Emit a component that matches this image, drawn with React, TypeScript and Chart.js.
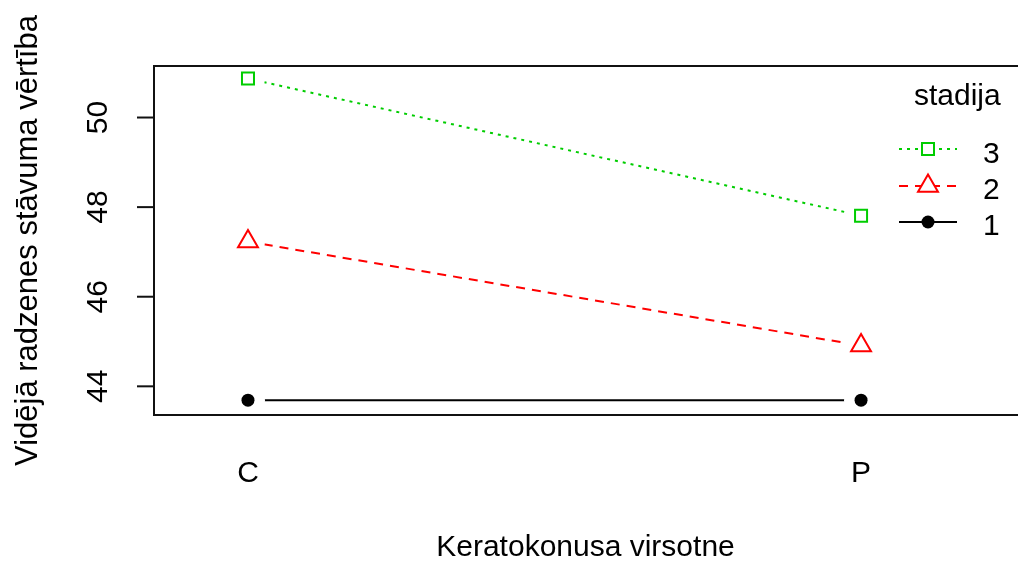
import React, { useEffect, useRef } from "react";
import { Chart, registerables } from "chart.js";

Chart.register(...registerables);

const categories = ["C", "P"];
const yTicks = [44, 46, 48, 50];
const stage3 = [50.87, 47.81];
const stage2 = [47.23, 44.91];
const stage1 = [43.69, 43.69];
const legendTitle = "stadija";
const legendLabels = ["3", "2", "1"];
const xTitle = "Keratokonusa virsotne";
const yTitle = "Vidējā radzenes stāvuma vērtība";

const FONT = '"Liberation Sans", Arial, sans-serif';
const FS = 30;

const GREEN = "#00CD00";
const RED = "#FF0000";
const BLACK = "#000000";

type SeriesDef = {
  values: number[];
  color: string;
  dash: number[];
  style: string;
  radius: number;
  fill: string;
};

const series: SeriesDef[] = [
  { values: stage3, color: GREEN, dash: [3, 5], style: "rect", radius: 8.5, fill: "#ffffff" },
  { values: stage2, color: RED, dash: [9, 7], style: "triangle", radius: 11.5, fill: "#ffffff" },
  { values: stage1, color: BLACK, dash: [], style: "circle", radius: 6.5, fill: BLACK },
];

function drawMarker(ctx: CanvasRenderingContext2D, s: SeriesDef, x: number, y: number) {
  ctx.save();
  ctx.setLineDash([]);
  ctx.strokeStyle = s.color;
  ctx.fillStyle = s.fill;
  ctx.lineWidth = 2;
  ctx.beginPath();
  if (s.style === "rect") {
    const h = s.radius * Math.SQRT1_2;
    ctx.rect(x - h, y - h, 2 * h, 2 * h);
    ctx.fill();
    ctx.stroke();
  } else if (s.style === "triangle") {
    const r = s.radius;
    ctx.moveTo(x, y - r);
    ctx.lineTo(x + (r * Math.sqrt(3)) / 2, y + r / 2);
    ctx.lineTo(x - (r * Math.sqrt(3)) / 2, y + r / 2);
    ctx.closePath();
    ctx.fill();
    ctx.stroke();
  } else {
    ctx.arc(x, y, s.radius, 0, Math.PI * 2);
    ctx.fill();
  }
  ctx.restore();
}

const framePlugin = {
  id: "rframe",
  afterDraw(chart: any) {
    const { ctx, chartArea } = chart;
    const ys = chart.scales.y;
    const xs = chart.scales.x;
    ctx.save();
    // box
    ctx.strokeStyle = "#111";
    ctx.lineWidth = 2;
    ctx.setLineDash([]);
    ctx.strokeRect(chartArea.left, chartArea.top, chartArea.right - chartArea.left + 4, chartArea.bottom - chartArea.top);
    // y ticks
    ctx.fillStyle = "#000";
    ctx.font = `${FS}px ${FONT}`;
    yTicks.forEach((t) => {
      const py = ys.getPixelForValue(t);
      ctx.beginPath();
      ctx.moveTo(chartArea.left - 17, py);
      ctx.lineTo(chartArea.left, py);
      ctx.stroke();
      ctx.save();
      ctx.translate(107, py);
      ctx.rotate(-Math.PI / 2);
      ctx.textAlign = "center";
      ctx.textBaseline = "alphabetic";
      ctx.fillText(String(t), 0, 0);
      ctx.restore();
    });
    // x labels
    ctx.textAlign = "center";
    ctx.textBaseline = "alphabetic";
    categories.forEach((c, i) => {
      ctx.fillText(c, xs.getPixelForValue(i + 1), 482);
    });
    // axis titles
    ctx.fillText(xTitle, (chartArea.left + 1017) / 2, 556);
    ctx.save();
    ctx.font = `31px ${FONT}`;
    ctx.translate(37, (chartArea.top + chartArea.bottom) / 2);
    ctx.rotate(-Math.PI / 2);
    ctx.fillText(yTitle, 0, 0);
    ctx.restore();
    // legend
    ctx.textAlign = "left";
    ctx.fillText(legendTitle, 914, 105);
    const rowY = [149, 186, 222];
    const baseY = [163, 199, 235];
    series.forEach((s, i) => {
      ctx.save();
      ctx.strokeStyle = s.color;
      ctx.lineWidth = 2;
      ctx.setLineDash(s.dash);
      ctx.beginPath();
      ctx.moveTo(899, rowY[i]);
      ctx.lineTo(957, rowY[i]);
      ctx.stroke();
      ctx.restore();
      drawMarker(ctx, s, 928, rowY[i]);
      ctx.fillStyle = "#000";
      ctx.fillText(legendLabels[i], 983, baseY[i]);
    });
    ctx.restore();
  },
};

export default function App() {
  const ref = useRef<HTMLCanvasElement | null>(null);
  useEffect(() => {
    if (!ref.current) return;
    const datasets: any[] = [];
    series.forEach((s) => {
      const pts = s.values.map((v, i) => ({ x: i + 1, y: v }));
      datasets.push({
        data: pts,
        borderColor: s.color,
        borderWidth: 2,
        borderDash: s.dash,
        tension: 0,
        pointRadius: 17,
        pointStyle: "circle",
        pointBackgroundColor: "#ffffff",
        pointBorderWidth: 0,
        pointBorderColor: "#ffffff",
        order: 2,
      });
      datasets.push({
        data: pts,
        showLine: false,
        pointStyle: s.style,
        pointRadius: s.radius,
        pointBorderColor: s.color,
        pointBackgroundColor: s.fill,
        pointBorderWidth: s.style === "circle" ? 0 : 2,
        order: 1,
      });
    });
    const chart = new Chart(ref.current, {
      type: "line",
      data: { datasets },
      options: {
        animation: false,
        responsive: false,
        events: [],
        layout: { autoPadding: false, padding: { left: 154, top: 66, right: 0, bottom: 146 } },
        scales: {
          x: { type: "linear", min: 0.8467, max: 2.256, display: false },
          y: { type: "linear", min: 43.36, max: 51.15, display: false },
        },
        plugins: { legend: { display: false }, tooltip: { enabled: false } },
      },
      plugins: [framePlugin],
    });
    return () => chart.destroy();
  }, []);
  return (
    <div style={{ position: "fixed", left: 0, top: 0, width: 1018, height: 561, background: "#fff" }}>
      <canvas ref={ref} width={1018} height={561} style={{ display: "block" }} />
    </div>
  );
}
